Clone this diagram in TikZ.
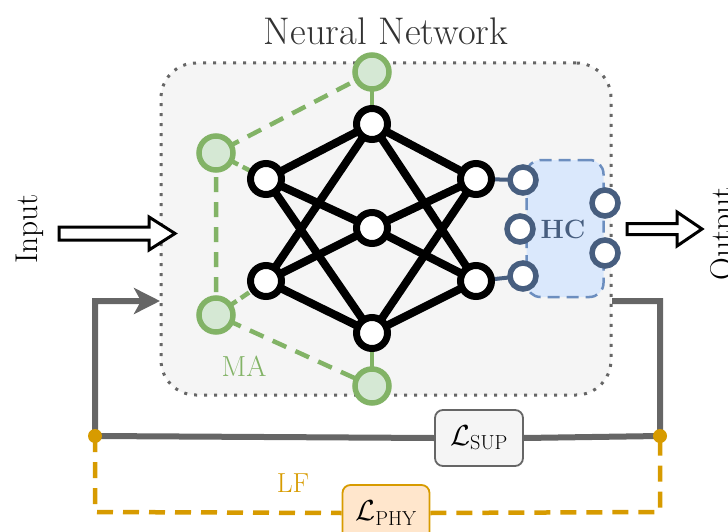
\RequirePackage{fix-cm}
\documentclass[tikz,border=0pt]{standalone}
\usepackage{amsmath}
\usetikzlibrary{arrows.meta}
\pgfdeclarelayer{bg}
\pgfsetlayers{bg,main}
\definecolor{boxgray}{HTML}{F5F5F5}
\definecolor{dotgray}{HTML}{666666}
\definecolor{gfill}{HTML}{D5E8D4}
\definecolor{gline}{HTML}{82B366}
\definecolor{bfill}{HTML}{DAE8FC}
\definecolor{bline}{HTML}{6C8EBF}
\definecolor{bnode}{HTML}{475E7F}
\definecolor{ofill}{HTML}{FFE6CC}
\definecolor{oline}{HTML}{D79B00}
\definecolor{txt}{HTML}{333333}
\tikzset{
  neuron/.style={circle,draw=black,fill=white,line width=7pt,minimum size=31pt,inner sep=0pt},
  manode/.style={circle,draw=gline,fill=gfill,line width=5.5pt,minimum size=34pt,inner sep=0pt},
  hcnode/.style={circle,draw=bnode,fill=white,line width=5.5pt,minimum size=26pt,inner sep=0pt},
  nnedge/.style={line width=8pt,black},
  maedge/.style={line width=4.5pt,gline,dash pattern=on 15pt off 10pt},
  hcedge/.style={line width=4pt,bnode},
  loopline/.style={line width=6pt,dotgray},
  lfline/.style={line width=4.5pt,oline,dash pattern=on 16pt off 10pt},
  lossbox/.style={rounded corners=8pt,line width=1.8pt,minimum width=88pt,minimum height=56pt,inner sep=0pt},
  hollow/.style={draw=black,fill=white,line width=3pt,line join=miter},
  odot/.style={circle,fill=oline,minimum size=14pt,inner sep=0pt},
  nnbox/.style={draw=dotgray,fill=boxgray,line width=3pt,dash pattern=on 3pt off 7pt,rounded corners=35pt,
    minimum width=450pt,minimum height=332pt,inner sep=0pt},
  hcbox/.style={draw=bline,fill=bfill,line width=2.5pt,dash pattern=on 12pt off 7pt,rounded corners=14pt,
    minimum width=77pt,minimum height=137pt,inner sep=0pt},
}
\begin{document}
\begin{tikzpicture}[x=1pt,y=-1pt]
\useasboundingbox (0,0) rectangle (728,532);
% title
\node[text=txt,font=\fontsize{38.5}{44}\selectfont] (title) at (386,31) {Neural Network};
% neurons
\node[neuron] (l1) at (266,179) {};
\node[neuron] (l2) at (266,281) {};
\node[neuron] (m1) at (372,124) {};
\node[neuron] (m2) at (372,228) {};
\node[neuron] (m3) at (372,333) {};
\node[neuron] (r1) at (476,179) {};
\node[neuron] (r2) at (476,281) {};
% MA nodes
\node[manode] (g1) at (372,72) {};
\node[manode] (g2) at (216,153) {};
\node[manode] (g3) at (216,315) {};
\node[manode] (g4) at (372,386) {};
% HC nodes
\node[hcnode] (h1) at (523,180) {};
\node[hcnode] (h2) at (520,229) {};
\node[hcnode] (h3) at (523,276) {};
\node[hcnode] (h4) at (605,203) {};
\node[hcnode] (h5) at (605,253) {};
\begin{pgfonlayer}{bg}
\node[nnbox] (nnbox) at (386,229) {};
\node[hcbox] (hcb) at (565,228.5) {};
\foreach \a in {l1,l2} \foreach \b in {m1,m2,m3} \draw[nnedge] (\a.center) -- (\b.center);
\foreach \a in {m1,m2,m3} \foreach \b in {r1,r2} \draw[nnedge] (\a.center) -- (\b.center);
\draw[maedge] (g1.center) -- (g2.center) -- (g3.center) -- (g4.center);
\draw[line width=4.5pt,gline] (g1.center) -- (m1.center);
\draw[line width=4.5pt,gline] (g4.center) -- (m3.center);
\draw[maedge,dash pattern=on 10pt off 5pt] (g2.center) -- (l1.center);
\draw[maedge,dash pattern=on 10pt off 5pt] (g3.center) -- (l2.center);
\draw[hcedge] (r1.center) -- (h1.center);
\draw[hcedge] (r2.center) -- (h3.center);
\end{pgfonlayer}
\node[text=gline,font=\fontsize{29}{34}\selectfont] (ma) at (244,366) {MA};
\node[text=bnode,font=\bfseries\fontsize{26.5}{32}\selectfont] (hc) at (563,229) {HC};
% input / output
\node[rotate=90,font=\fontsize{31.5}{36}\selectfont] (inp) at (30,229) {Input};
\node[rotate=90,font=\fontsize{31.5}{36}\selectfont,anchor=north] (outp) at (707,234) {Output};
\draw[hollow] (59,227) -- (149,227) -- (149,217) -- (175,233.5) -- (149,250) -- (149,240) -- (59,240) -- cycle;
\draw[hollow] (627,223.5) -- (677,223.5) -- (677,212) -- (702,229) -- (677,246) -- (677,234.5) -- (627,234.5) -- cycle;
% loss boxes
\node[lossbox,draw=dotgray,fill=boxgray,font=\fontsize{29}{34}\selectfont] (lsup) at (479,438) {$\mathcal{L}_{\text{SUP}}$};
\node[lossbox,draw=oline,fill=ofill,minimum width=87pt,font=\fontsize{29}{34}\selectfont] (lphy) at (386,513) {$\mathcal{L}_{\text{PHY}}$};
% loop
\coordinate (a1) at (612,301);
\coordinate (a2) at (660,301);
\coordinate (a3) at (95,301);
\coordinate (a4) at (160,301);
\coordinate (b1) at (95,512);
\coordinate (b2) at (660,512);
\node[odot] (dr) at (660,436) {};
\node[odot] (dl) at (95,436) {};
\begin{pgfonlayer}{bg}
\draw[loopline] (a1) -- (a2) -- (dr.center) -- (lsup.east);
\draw[loopline,-{Stealth[length=26pt,width=26pt,inset=7pt]}] (lsup.west) -- (dl.center) -- (a3) -- (a4);
\draw[lfline] (dl.center) -- (b1) -- (lphy.west);
\draw[lfline] (lphy.east) -- (b2) -- (dr.center);
\end{pgfonlayer}
\node[text=oline,font=\fontsize{27.5}{32}\selectfont] (lf) at (293,483) {LF};
\end{tikzpicture}
\end{document}
